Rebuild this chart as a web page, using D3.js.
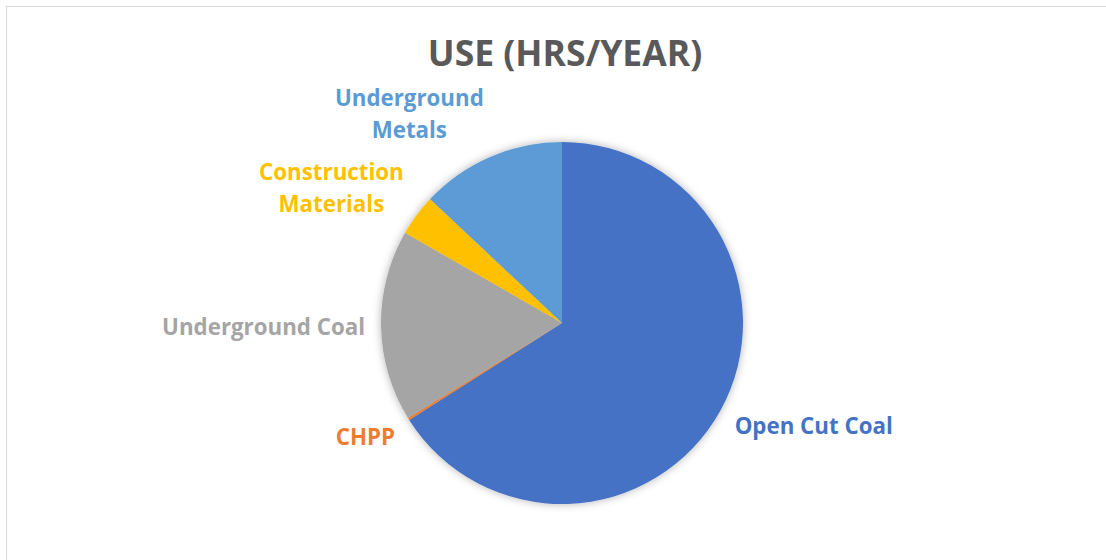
<!DOCTYPE html>
<html>
<head>
<meta charset="utf-8">
<script src="https://cdn.jsdelivr.net/npm/d3@7"></script>
<style>
  body { margin: 0; background: #fff; }
  svg { display: block; font-family: "Open Sans", Lato, sans-serif; }
</style>
</head>
<body>
<script>
// data (share of hours per year, %)
const categories = ["Open Cut Coal", "CHPP", "Underground Coal", "Construction Materials", "Underground Metals"];
const values = [66.0, 0.2, 17.1, 3.7, 13.0];
const colors = ["#4472C4", "#ED7D31", "#A5A5A5", "#FFC000", "#5B9BD5"];
const title = "USE (HRS/YEAR)";

const width = 1106;
const height = 560;
const cx = 562, cy = 323, radius = 181;

const svg = d3.select('body')
  .append('svg')
  .attr('width', width)
  .attr('height', height);

// soft shadow behind pie
const defs = svg.append('defs');
const f = defs.append('filter')
  .attr('id', 'shadow')
  .attr('x', '-20%').attr('y', '-20%')
  .attr('width', '140%').attr('height', '140%');
f.append('feDropShadow')
  .attr('dx', 0).attr('dy', 0)
  .attr('stdDeviation', 4)
  .attr('flood-color', '#000')
  .attr('flood-opacity', 0.3);

// chart frame
svg.append('rect')
  .attr('x', 6.5).attr('y', 6.5)
  .attr('width', width + 20).attr('height', height + 20)
  .attr('fill', '#fff')
  .attr('stroke', '#D9D9D9')
  .attr('stroke-width', 1);

svg.append('text')
  .attr('x', 565)
  .attr('y', 66)
  .attr('text-anchor', 'middle')
  .attr('font-size', 35.5)
  .attr('font-weight', 700)
  .attr('fill', '#595959')
  .text(title);

const pie = d3.pie().sort(null).value(d => d.value);
const arc = d3.arc().innerRadius(0).outerRadius(radius);

const data = categories.map((c, i) => ({ name: c, value: values[i], color: colors[i] }));
const arcs = pie(data);

const g = svg.append('g')
  .attr('transform', 'translate(' + cx + ',' + cy + ')');

g.append('g')
  .attr('filter', 'url(#shadow)')
  .selectAll('path')
  .data(arcs)
  .enter().append('path')
  .attr('d', arc)
  .attr('fill', d => d.data.color);

// labels outside the pie, box pushed away from the rim
const gap = 16;
const lineH = 31.5;
arcs.forEach(a => {
  const mid = (a.startAngle + a.endAngle) / 2;
  const px = Math.sin(mid) * (radius + gap);
  const py = -Math.cos(mid) * (radius + gap);
  const name = a.data.name;
  const lines = name.length > 17 ? [name.slice(0, name.indexOf(' ')), name.slice(name.indexOf(' ') + 1)] : [name];

  const t = g.append('text')
    .attr('text-anchor', 'middle')
    .attr('font-size', 22.3)
    .attr('font-weight', 700)
    .attr('fill', a.data.color);
  lines.forEach((l, i) => {
    t.append('tspan').attr('x', 0).attr('y', i * lineH).text(l);
  });

  const bb = t.node().getBBox();
  const w = bb.width;
  const h = (lines.length) * lineH;
  const sx = Math.sin(mid) >= 0 ? 1 : -1;
  const bx = px + sx * w / 2;
  const by = py - Math.cos(mid) * h / 2;
  // first baseline so the block is centred on by
  const firstBase = by - h / 2 + lineH * 0.72 + 2;
  t.selectAll('tspan')
    .attr('x', bx)
    .attr('y', (d, i, n) => firstBase + i * lineH);
});
</script>
</body>
</html>
